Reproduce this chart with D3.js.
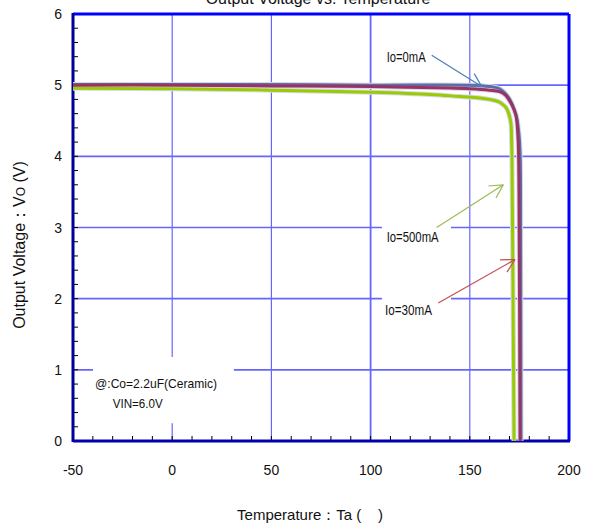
<!DOCTYPE html>
<html>
<head>
<meta charset="utf-8">
<script src="https://cdn.jsdelivr.net/npm/d3@7"></script>
<style>
  body { margin: 0; background: #fff; }
  text { font-family: "Liberation Sans", Arial, sans-serif; fill: #111; }
</style>
</head>
<body>
<svg id="chart" width="597" height="529"></svg>
<script>
// Data (temperature in C, output voltage in V)

const io0mA = [
  [-50, 5.01], [0, 5.01], [50, 5.01], [100, 5.0], [150, 5.0], [160, 4.98],
  [165, 4.95], [168, 4.88], [170.3, 4.79], [172.5, 4.65], [173.6, 4.55],
  [174.8, 4.3], [175.4, 4.0], [175.6, 3.0], [175.8, 0]
];
const io30mA = [
  [-50, 5.0], [0, 5.0], [50, 4.99], [100, 4.98], [140, 4.96], [150, 4.95],
  [160, 4.93], [165, 4.91], [168, 4.86], [170.3, 4.77], [172.5, 4.64],
  [173.5, 4.54], [174.4, 4.2], [174.8, 3.5], [175.3, 0]
];
const io500mA = [
  [-50, 4.955], [0, 4.95], [30, 4.94], [50, 4.93], [100, 4.9], [130, 4.87],
  [145, 4.84], [155, 4.82], [160, 4.8], [164.4, 4.77], [167, 4.72],
  [168.6, 4.67], [170.6, 4.49], [171.1, 4.2], [171.4, 3.5], [171.8, 2], [172.3, 0]
];

const xTicks = [-50, 0, 50, 100, 150, 200];
const yTicks = [0, 1, 2, 3, 4, 5, 6];

// label text, label anchor (T, V), arrow from / to (T, V)
const notes = [
  { text: "Io=0mA",   at: [108.1, 5.33], len: 39, color: "#4a7ebb", from: [130.8, 5.42], to: [156.0, 4.98] },
  { text: "Io=500mA", at: [108.1, 2.80], len: 52, color: "#9bbb59", from: [133.3, 3.0],  to: [166.9, 3.6] },
  { text: "Io=30mA",  at: [107.3, 1.77], len: 47, color: "#c0504d", from: [134.1, 1.94], to: [172.8, 2.55] }
];

// white boxes that the labels sit on (T0, T1, V0, V1)
const boxes = [
  [105.7, 140.5, 2.66, 3.10],
  [105.7, 140.5, 1.67, 2.15],
  [-39.9, 31.1, 0.25, 1.18]
];

const svg = d3.select("#chart");

const x = d3.scaleLinear().domain([-50, 200]).range([73, 569]);
const y = d3.scaleLinear().domain([0, 6]).range([441, 14]);

// gridlines
svg.append("g").selectAll("line").data([1, 2, 3, 4, 5]).join("line")
  .attr("x1", x(-50)).attr("x2", x(200))
  .attr("y1", d => y(d)).attr("y2", d => y(d))
  .attr("stroke", "#6666ff").attr("stroke-width", 1.6);

svg.append("g").selectAll("line").data([0, 50, 100, 150]).join("line")
  .attr("x1", d => x(d)).attr("x2", d => x(d))
  .attr("y1", y(0)).attr("y2", y(6))
  .attr("stroke", "#6666ff").attr("stroke-width", d => d === 100 ? 1.8 : 1.2);

// label backgrounds cut the grid
svg.append("g").selectAll("rect").data(boxes).join("rect")
  .attr("x", d => x(d[0])).attr("width", d => x(d[1]) - x(d[0]))
  .attr("y", d => y(d[3])).attr("height", d => y(d[2]) - y(d[3]))
  .attr("fill", "#fff");

// minor ticks
const yMinor = d3.range(0, 6.01, 0.2);
svg.append("g").selectAll("line").data(yMinor).join("line")
  .attr("x1", x(-50)).attr("x2", x(-50) + 5)
  .attr("y1", d => y(d)).attr("y2", d => y(d))
  .attr("stroke", "#000").attr("stroke-width", 1);

const xMinor = d3.range(-50, 201, 10);
svg.append("g").selectAll("line").data(xMinor).join("line")
  .attr("x1", d => x(d)).attr("x2", d => x(d))
  .attr("y1", y(0)).attr("y2", y(0) - 5)
  .attr("stroke", "#000").attr("stroke-width", 1);

// frame
svg.append("line").attr("x1", x(-50)).attr("x2", x(200)).attr("y1", y(6)).attr("y2", y(6))
  .attr("stroke", "#0000ff").attr("stroke-width", 3);
svg.append("line").attr("x1", x(200)).attr("x2", x(200)).attr("y1", y(6)).attr("y2", y(0))
  .attr("stroke", "#0000ff").attr("stroke-width", 3);
svg.append("line").attr("x1", x(-50)).attr("x2", x(-50)).attr("y1", y(6) - 1).attr("y2", y(0) + 1)
  .attr("stroke", "#000099").attr("stroke-width", 3);
svg.append("line").attr("x1", x(-50)).attr("x2", x(200) + 1).attr("y1", y(0)).attr("y2", y(0))
  .attr("stroke", "#0000aa").attr("stroke-width", 3);

// curves
const line = d3.line()
  .x(d => x(d[0])).y(d => y(d[1]))
  .curve(d3.curveCatmullRom.alpha(0.5));

const series = [
  { data: io500mA, color: "#99cc00" },
  { data: io0mA,   color: "#5d6ea6" },
  { data: io30mA,  color: "#993366" }
];

series.forEach(s => {
  svg.append("path").attr("d", line(s.data))
    .attr("fill", "none").attr("stroke", "#d8d8e4").attr("stroke-width", 5);
});
series.forEach(s => {
  svg.append("path").attr("d", line(s.data))
    .attr("fill", "none").attr("stroke", s.color).attr("stroke-width", 3)
    .attr("stroke-linejoin", "round");
});

// annotations
notes.forEach(n => {
  const x0 = x(n.from[0]), y0 = y(n.from[1]);
  const x1 = x(n.to[0]), y1 = y(n.to[1]);
  const a = Math.atan2(y0 - y1, x0 - x1);
  const g = svg.append("g").attr("stroke", n.color).attr("stroke-width", 1.2).attr("fill", "none");
  g.append("line").attr("x1", x0).attr("y1", y0).attr("x2", x1).attr("y2", y1);
  [-0.49, 0.49].forEach(da => {
    g.append("line").attr("x1", x1).attr("y1", y1)
      .attr("x2", x1 + 15 * Math.cos(a + da)).attr("y2", y1 + 15 * Math.sin(a + da));
  });
  svg.append("text").attr("x", x(n.at[0])).attr("y", y(n.at[1]))
    .attr("font-size", 14).attr("textLength", n.len).attr("lengthAdjust", "spacingAndGlyphs")
    .text(n.text);
});

svg.append("text").attr("x", x(-38.9)).attr("y", y(0.745))
  .attr("font-size", 13.5).attr("textLength", 122).attr("lengthAdjust", "spacingAndGlyphs")
  .text("@:Co=2.2uF(Ceramic)");
svg.append("text").attr("x", x(-30)).attr("y", y(0.468))
  .attr("font-size", 13.5).attr("textLength", 50).attr("lengthAdjust", "spacingAndGlyphs")
  .text("VIN=6.0V");

// tick labels
svg.append("g").selectAll("text").data(yTicks).join("text")
  .attr("x", 62).attr("y", d => y(d) + 5)
  .attr("text-anchor", "end").attr("font-size", 14)
  .text(d => d);

svg.append("g").selectAll("text").data(xTicks).join("text")
  .attr("x", d => x(d)).attr("y", 475)
  .attr("text-anchor", "middle").attr("font-size", 14)
  .text(d => d);

// titles
svg.append("text").attr("x", 318).attr("y", 4)
  .attr("text-anchor", "middle").attr("font-size", 16)
  .text("Output Voltage vs. Temperature");

svg.append("text").attr("x", 310).attr("y", 520)
  .attr("text-anchor", "middle").attr("font-size", 15)
  .text("Temperature：Ta (\u00a0\u00a0\u00a0\u00a0)");

const yl = svg.append("text")
  .attr("transform", "translate(25,245) rotate(-90)")
  .attr("text-anchor", "middle").attr("font-size", 16);
yl.append("tspan").text("Output Voltage：V");
yl.append("tspan").attr("font-size", 12).text("O");
yl.append("tspan").text(" (V)");
</script>
</body>
</html>
